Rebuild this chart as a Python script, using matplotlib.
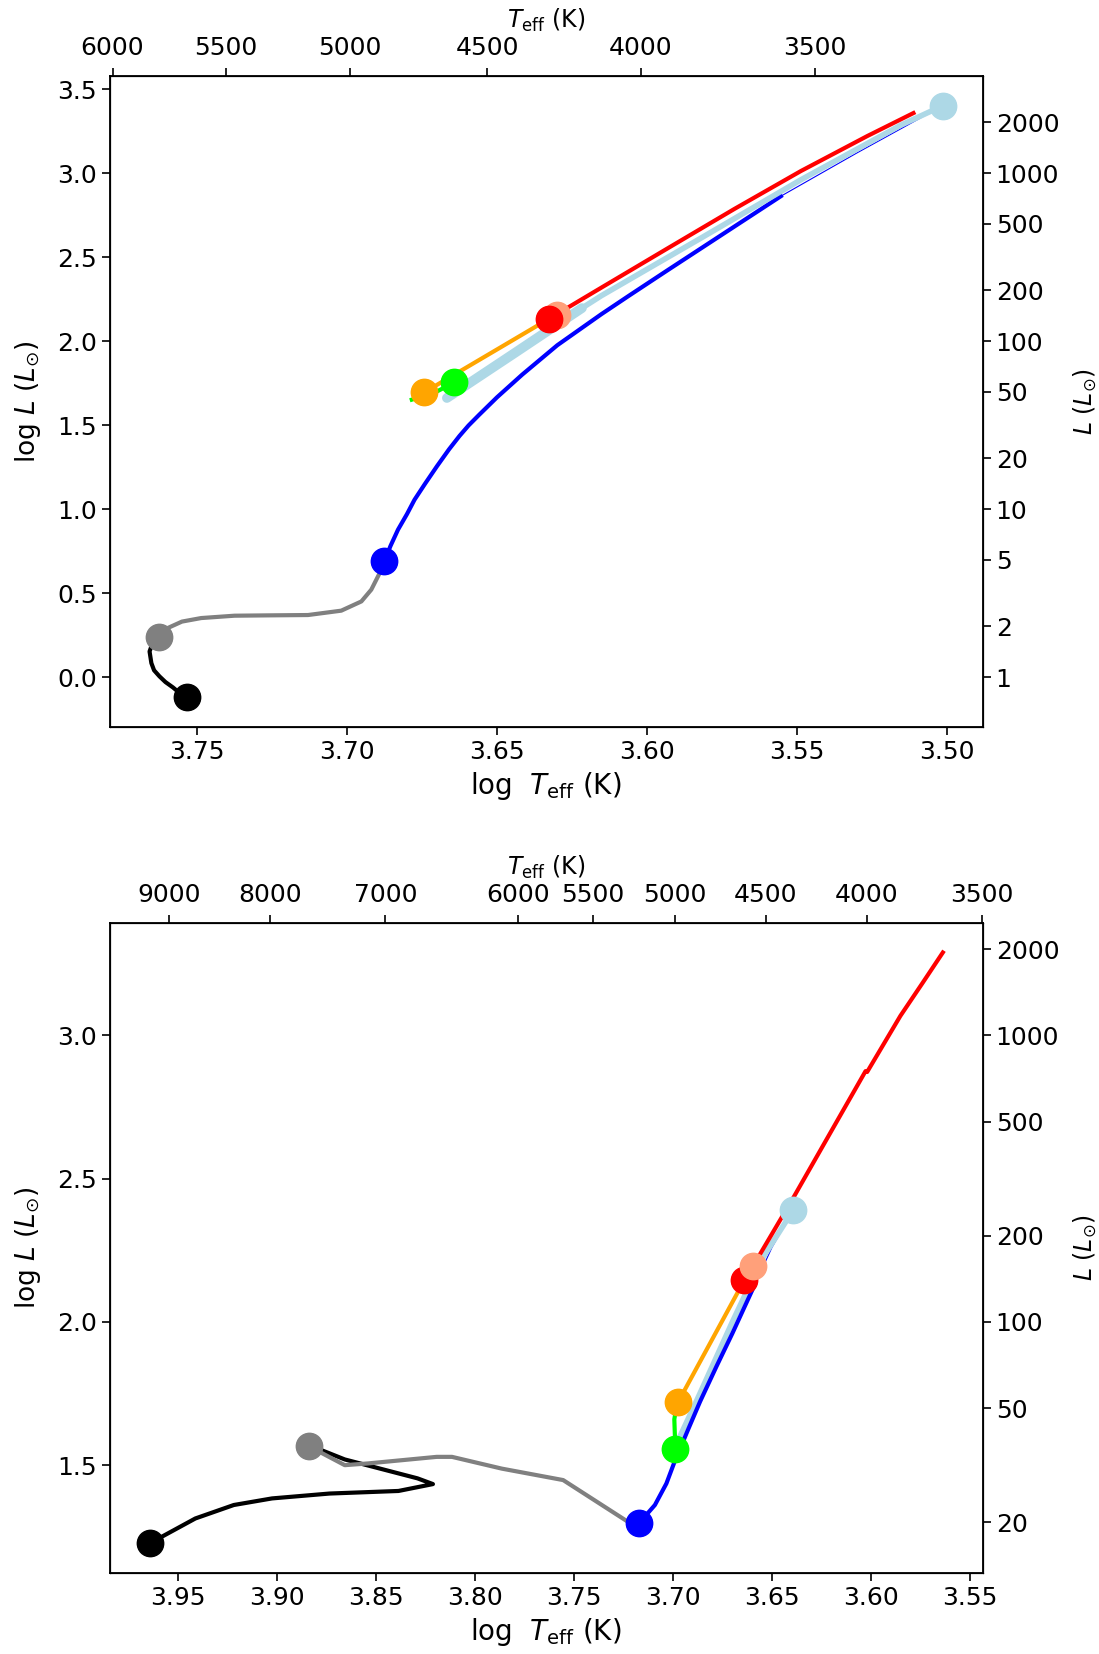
import numpy as np
import matplotlib
matplotlib.use("Agg")
import matplotlib.pyplot as plt

# ---------------- top panel tracks (log Teff, log L) ----------------
t1_black_T = [3.7532, 3.7558, 3.7580, 3.7605, 3.7625, 3.7643, 3.7652, 3.7658, 3.7652, 3.7628]
t1_black_L = [-0.121, -0.095, -0.062, -0.030, 0.004, 0.040, 0.083, 0.152, 0.182, 0.236]

t1_gray_T = [3.7628, 3.7597, 3.7550, 3.7486, 3.7375, 3.7263, 3.7130, 3.7019, 3.6952,
             3.6919, 3.6891, 3.6875]
t1_gray_L = [0.236, 0.292, 0.330, 0.351, 0.365, 0.367, 0.369, 0.395, 0.450,
             0.520, 0.619, 0.692]

t1_blue_T = [3.6875, 3.6855, 3.6830, 3.6800, 3.6775, 3.6740, 3.6700, 3.6660, 3.6625,
             3.6595, 3.6560, 3.6500, 3.6416, 3.6299, 3.6152, 3.6060, 3.5931, 3.5710, 3.5554]
t1_blue_L = [0.692, 0.780, 0.877, 0.970, 1.055, 1.150, 1.255, 1.355, 1.435,
             1.497, 1.560, 1.665, 1.800, 1.975, 2.160, 2.270, 2.422, 2.680, 2.862]
t1_bluethin_T = [3.5554, 3.5300, 3.5014]
t1_bluethin_L = [2.862, 3.120, 3.401]

t1_lbloop_T = [3.6667, 3.6440, 3.6217]
t1_lbloop_L = [1.661, 1.930, 2.196]
t1_lb_T = [3.6217, 3.6152, 3.5818, 3.5487, 3.5154, 3.5014]
t1_lb_L = [2.196, 2.270, 2.615, 2.960, 3.285, 3.401]

t1_green_T = [3.6642, 3.6700, 3.6784]
t1_green_L = [1.754, 1.700, 1.651]

t1_orange_T = [3.6743, 3.6326]
t1_orange_L = [1.694, 2.133]

t1_red_T = [3.6326, 3.6152, 3.5931, 3.5709, 3.5487, 3.5266, 3.5112]
t1_red_L = [2.133, 2.318, 2.552, 2.786, 3.012, 3.220, 3.357]

t1_salmon = (3.6301, 2.157)
t1_lbdot = (3.5014, 3.401)

# ---------------- bottom panel tracks ----------------
t2_black_T = [3.9641, 3.9564, 3.9410, 3.9216, 3.9023, 3.8733, 3.8385, 3.8211,
              3.8289, 3.8656, 3.8772, 3.8837]
t2_black_L = [1.227, 1.256, 1.314, 1.361, 1.384, 1.401, 1.410, 1.434,
              1.454, 1.520, 1.552, 1.566]

t2_gray_T = [3.8837, 3.8656, 3.8540, 3.8192, 3.8115, 3.7864, 3.7554, 3.7226, 3.7172]
t2_gray_L = [1.566, 1.500, 1.506, 1.529, 1.529, 1.488, 1.448, 1.302, 1.297]

t2_blue_T = [3.7172, 3.7091, 3.7033, 3.6989, 3.6920, 3.6863, 3.6780, 3.6700, 3.6593]
t2_blue_L = [1.297, 1.361, 1.436, 1.517, 1.630, 1.722, 1.845, 1.960, 2.121]
t2_bluethin_T = [3.6593, 3.6500, 3.6394]
t2_bluethin_L = [2.121, 2.260, 2.389]

t2_lb_T = [3.6985, 3.6879, 3.6700, 3.6550, 3.6394]
t2_lb_L = [1.570, 1.727, 2.000, 2.220, 2.389]

t2_green_T = [3.6988, 3.6990, 3.6993, 3.6980]
t2_green_L = [1.556, 1.600, 1.660, 1.715]

t2_orange_T = [3.6974, 3.6640]
t2_orange_L = [1.720, 2.145]

t2_red_T = [3.6640, 3.6559, 3.6391, 3.6189, 3.6028, 3.6020, 3.5852, 3.5740, 3.5638]
t2_red_L = [2.145, 2.238, 2.435, 2.680, 2.875, 2.872, 3.068, 3.183, 3.289]

t2_salmon = (3.6598, 2.195)
t2_lbdot = (3.6394, 2.389)

# secondary axis ticks
top1_teff = [6000, 5500, 5000, 4500, 4000, 3500]
right1_lum = [1, 2, 5, 10, 20, 50, 100, 200, 500, 1000, 2000]
top2_teff = [9000, 8000, 7000, 6000, 5500, 5000, 4500, 4000, 3500]
right2_lum = [20, 50, 100, 200, 500, 1000, 2000]
left1_ticks = [0.0, 0.5, 1.0, 1.5, 2.0, 2.5, 3.0, 3.5]
left2_ticks = [1.5, 2.0, 2.5, 3.0]

LW = 3
MS = 19
TICK = 18
XLAB = 20
YLAB = 19
SLAB = 17

fig = plt.figure(figsize=(10.99, 16.54), dpi=100)
ax1 = fig.add_axes([0.100, 0.5605, 0.794, 0.3935])
ax2 = fig.add_axes([0.100, 0.0490, 0.794, 0.3930])


def dot(ax, x, y, c, z):
    ax.plot([x], [y], 'o', color=c, ms=MS, zorder=z)


# top panel
ax1.plot(t1_black_T, t1_black_L, color='black', lw=LW, zorder=2)
ax1.plot(t1_gray_T, t1_gray_L, color='gray', lw=LW, zorder=2)
ax1.plot(t1_bluethin_T, t1_bluethin_L, color='blue', lw=0.8, zorder=1)
ax1.plot(t1_blue_T, t1_blue_L, color='blue', lw=LW, zorder=2)
ax1.plot(t1_lbloop_T, t1_lbloop_L, color='lightblue', lw=7, solid_capstyle='round', zorder=2)
ax1.plot(t1_lb_T, t1_lb_L, color='lightblue', lw=4, zorder=2)
ax1.plot(t1_green_T, t1_green_L, color='lime', lw=LW, zorder=3)
ax1.plot(t1_orange_T, t1_orange_L, color='orange', lw=LW, zorder=3)
ax1.plot(t1_red_T, t1_red_L, color='red', lw=LW, zorder=3)
dot(ax1, t1_black_T[0], t1_black_L[0], 'black', 4)
dot(ax1, t1_gray_T[0], t1_gray_L[0], 'gray', 4)
dot(ax1, t1_blue_T[0], t1_blue_L[0], 'blue', 4)
dot(ax1, t1_lbdot[0], t1_lbdot[1], 'lightblue', 4)
dot(ax1, t1_green_T[0], t1_green_L[0], 'lime', 4)
dot(ax1, t1_orange_T[0], t1_orange_L[0], 'orange', 5)
dot(ax1, t1_salmon[0], t1_salmon[1], 'lightsalmon', 4)
dot(ax1, t1_red_T[0], t1_red_L[0], 'red', 5)

# bottom panel
ax2.plot(t2_black_T, t2_black_L, color='black', lw=LW, zorder=2)
ax2.plot(t2_gray_T, t2_gray_L, color='gray', lw=LW, zorder=2)
ax2.plot(t2_bluethin_T, t2_bluethin_L, color='blue', lw=0.8, zorder=1)
ax2.plot(t2_blue_T, t2_blue_L, color='blue', lw=LW, zorder=2)
ax2.plot(t2_lb_T, t2_lb_L, color='lightblue', lw=4, zorder=1.5)
ax2.plot(t2_green_T, t2_green_L, color='lime', lw=LW, zorder=3)
ax2.plot(t2_orange_T, t2_orange_L, color='orange', lw=LW, zorder=3)
ax2.plot(t2_red_T, t2_red_L, color='red', lw=LW, zorder=3)
dot(ax2, t2_black_T[0], t2_black_L[0], 'black', 4)
dot(ax2, t2_gray_T[0], t2_gray_L[0], 'gray', 4)
dot(ax2, t2_blue_T[0], t2_blue_L[0], 'blue', 4)
dot(ax2, t2_lbdot[0], t2_lbdot[1], 'lightblue', 4)
dot(ax2, t2_green_T[0], t2_green_L[0], 'lime', 4)
dot(ax2, t2_orange_T[0], t2_orange_L[0], 'orange', 4)
dot(ax2, t2_red_T[0], t2_red_L[0], 'red', 4)
dot(ax2, t2_salmon[0], t2_salmon[1], 'lightsalmon', 5)

for ax, lt, teff, lum in [(ax1, left1_ticks, top1_teff, right1_lum),
                          (ax2, left2_ticks, top2_teff, right2_lum)]:
    ax.invert_xaxis()
    ax.set_yticks(lt)
    ax.set_xlabel(r'log  $T_{\rm eff}$ (K)', fontsize=XLAB)
    ax.set_ylabel(r'log $L$ ($L_{\odot}$)', fontsize=YLAB, labelpad=10)
    ax.tick_params(labelsize=TICK, length=6, width=1.2)
    for s in ax.spines.values():
        s.set_linewidth(1.3)

    axt = ax.twiny()
    axt.set_xlim(ax.get_xlim())
    axt.set_xticks(np.log10(teff))
    axt.set_xticklabels([str(t) for t in teff])
    axt.set_xlabel(r'$T_{\rm eff}$ (K)', fontsize=SLAB, labelpad=6)
    axt.tick_params(labelsize=TICK, length=6, width=1.2, pad=5.5)

    axr = ax.twinx()
    axr.set_ylim(ax.get_ylim())
    axr.set_yticks(np.log10(lum))
    axr.set_yticklabels([str(l) for l in lum])
    axr.set_ylabel(r'$L$ ($L_{\odot}$)', fontsize=SLAB, labelpad=9)
    axr.tick_params(labelsize=TICK, length=6, width=1.2)

fig.savefig('out.png', dpi=100)
